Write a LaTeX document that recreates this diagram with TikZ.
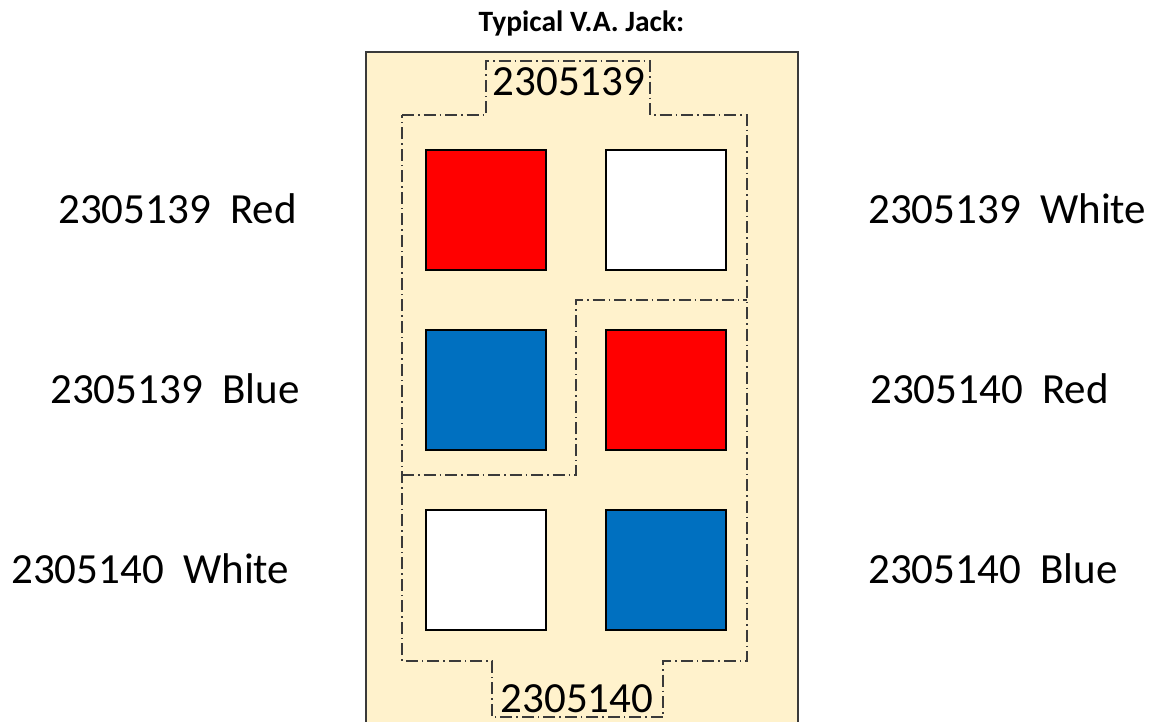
\documentclass[tikz,border=0pt]{standalone}
\usepackage{fontspec}
\setmainfont{Carlito}
\definecolor{bgyellow}{HTML}{FFF2CC}
\definecolor{jackred}{HTML}{FF0000}
\definecolor{jackblue}{HTML}{0070C0}
\definecolor{edgegray}{HTML}{3A3A3A}
\begin{document}
\begin{tikzpicture}[x=1pt,y=-1pt,
  sq/.style={draw=black,line width=1.5pt,minimum size=120pt,inner sep=0pt},
  lbl/.style={inner sep=0pt,font=\fontsize{43}{50}\selectfont,anchor=base west},
  grp/.style={draw=edgegray,line width=1.6pt,dash pattern=on 12pt off 4pt on 1.5pt off 4pt}]
\useasboundingbox (0,0) rectangle (1149,721);
\clip (0,0) rectangle (1149,721);
% housing
\draw[fill=bgyellow,draw=edgegray,line width=1.5pt] (366,52) rectangle (798,740);
% title
\node[inner sep=0pt,anchor=base,font=\fontsize{29.5}{33}\selectfont\bfseries] (title) at (581.5,31) {Typical V.A. Jack:};
% group outlines
\draw[grp] (402,115) -- (486,115) -- (486,61) -- (650,61) -- (650,115) -- (747,115) -- (747,661) -- (663,661) -- (663,717) -- (492,717) -- (492,661) -- (402,661) -- cycle;
\draw[grp] (402,475) -- (576,475) -- (576,300) -- (747,300);
% group labels
\node[inner sep=0pt,anchor=base,font=\fontsize{43}{50}\selectfont] (g1) at (569,95) {2305139};
\node[inner sep=0pt,anchor=base,font=\fontsize{43}{50}\selectfont] (g2) at (577,712) {2305140};
% contacts
\node[sq,fill=jackred] (c1) at (486,210) {};
\node[sq,fill=white] (c2) at (666,210) {};
\node[sq,fill=jackblue] (c3) at (486,390) {};
\node[sq,fill=jackred] (c4) at (666,390) {};
\node[sq,fill=white] (c5) at (486,570) {};
\node[sq,fill=jackblue] (c6) at (666,570) {};
% side labels
\node[lbl] (l1) at (58,223.5) {2305139\ \ Red};
\node[lbl] (l2) at (50,403.5) {2305139\ \ Blue};
\node[lbl] (l3) at (11,583.5) {2305140\ \ White};
\node[lbl] (r1) at (868,223.5) {2305139\ \ White};
\node[lbl] (r2) at (870,403.5) {2305140\ \ Red};
\node[lbl] (r3) at (868,583.5) {2305140\ \ Blue};
\end{tikzpicture}
\end{document}
